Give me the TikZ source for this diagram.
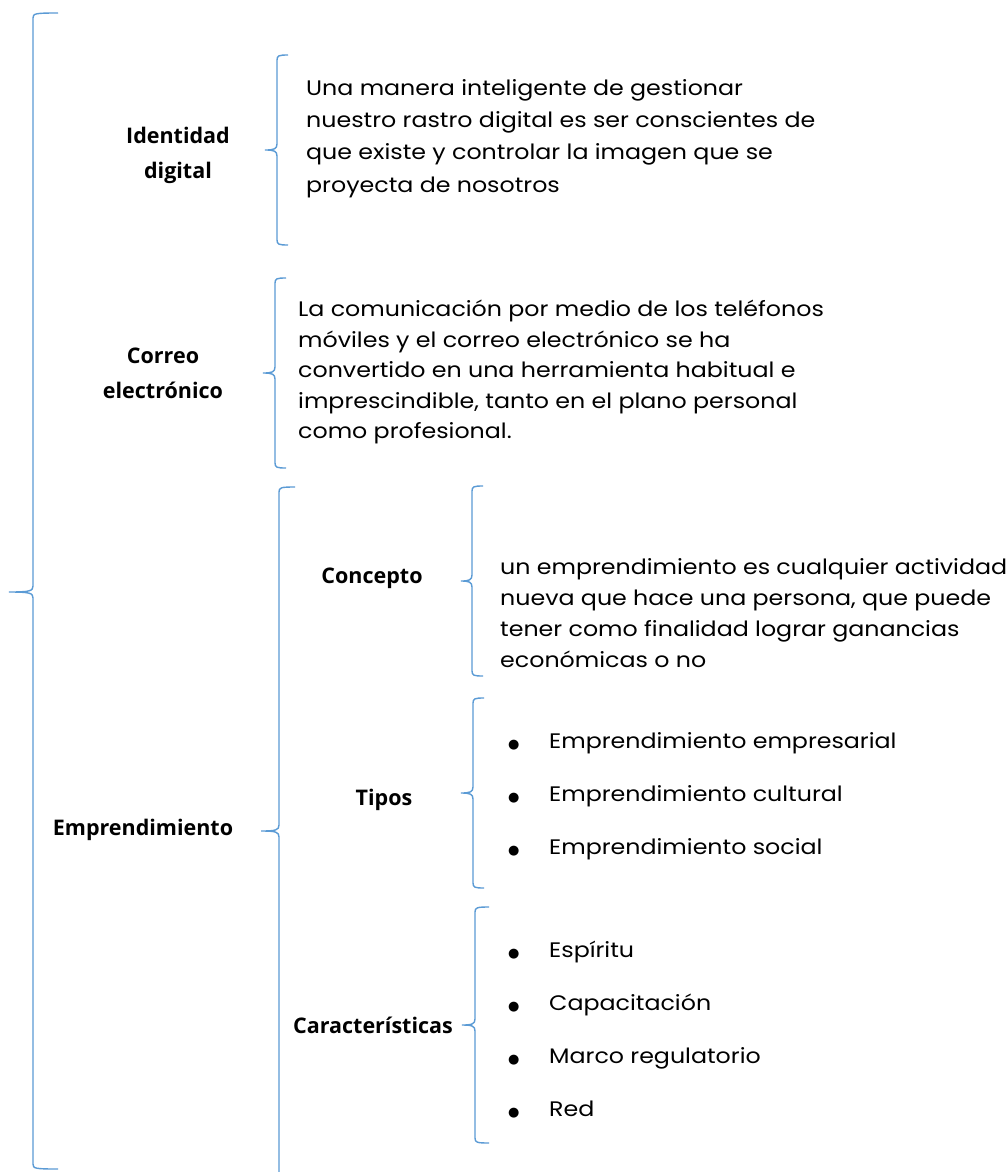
\documentclass[tikz,border=0pt]{standalone}
\usepackage{fontspec}
\setmainfont{Poppins}[FakeStretch=1.13]
\newfontfamily\labelfont{Open Sans}
\newfontfamily\dotfont{DejaVu Sans}
\definecolor{braceblue}{HTML}{5B9BD5}
\newcommand\mybrace[6]{% x, top, mid, bot, end width, tip width
  \draw[bracestyle] (#1+#5,#2) .. controls (#1+2,#2) and (#1,#2+0.5) .. (#1,#2+5)
    -- (#1,#3-6) .. controls (#1,#3-1) and (#1-3,#3) .. (#1-#6,#3)
    .. controls (#1-3,#3) and (#1,#3+1) .. (#1,#3+6)
    -- (#1,#4-5) .. controls (#1,#4-0.5) and (#1+2,#4) .. (#1+#5,#4);}
\newcommand\bulletitem{\makebox[41pt][l]{{\dotfont\fontsize{13}{13}\selectfont ●}}}
\tikzset{
  bracestyle/.style={draw=braceblue,line width=1.4pt},
  lbl/.style={font=\labelfont\bfseries\fontsize{21.5}{35}\selectfont,align=center,inner sep=0pt},
  body/.style={align=left,inner sep=0pt,anchor=north west},
  bul/.style={font=\fontsize{21}{53}\selectfont,align=left,inner sep=0pt,anchor=north west}
}
\begin{document}
\begin{tikzpicture}[x=1pt,y=-1pt]
\useasboundingbox (0,0) rectangle (1008,1172);
\fill[white] (0,0) rectangle (1008,1172);
% braces
\mybrace{33}{13}{592}{1169}{25}{24}
\mybrace{277}{55}{150}{245}{11}{12}
\mybrace{275}{278}{373}{468}{11}{12}
\mybrace{279}{487}{831}{1200}{16}{18}
\mybrace{472}{486}{581}{676}{11}{11}
\mybrace{473}{698}{793}{888}{11}{12}
\mybrace{475}{907}{1025}{1143}{14}{13}
% labels
\node[lbl] (id) at (178,155) {Identidad\\digital};
\node[lbl] (co) at (163,373) {Correo\\electrónico};
\node[lbl] (em) at (143,830) {Emprendimiento};
\node[lbl] (cn) at (372,578) {Concepto};
\node[lbl] (ti) at (384,800) {Tipos};
\node[lbl] (ca) at (373,1025) {Características};
% texts
\node[body,font=\fontsize{21}{32.3}\selectfont] (tid) at (306,79) {Una manera inteligente de gestionar\\nuestro rastro digital es ser conscientes de\\que existe y controlar la imagen que se\\proyecta de nosotros};
\node[body,font=\fontsize{21}{30.5}\selectfont] (tco) at (298,300) {La comunicación por medio de los teléfonos\\móviles y el correo electrónico se ha\\convertido en una herramienta habitual e\\imprescindible, tanto en el plano personal\\como profesional.};
\node[body,font=\fontsize{21}{31}\selectfont] (tcn) at (500,558) {un emprendimiento es cualquier actividad\\nueva que hace una persona, que puede\\tener como finalidad lograr ganancias\\económicas o no};
\node[bul] (tti) at (508,732) {\bulletitem Emprendimiento empresarial\\\bulletitem Emprendimiento cultural\\\bulletitem Emprendimiento social};
\node[bul] (tca) at (508,941) {\bulletitem Espíritu\\\bulletitem Capacitación\\\bulletitem Marco regulatorio\\\bulletitem Red};
\end{tikzpicture}
\end{document}
